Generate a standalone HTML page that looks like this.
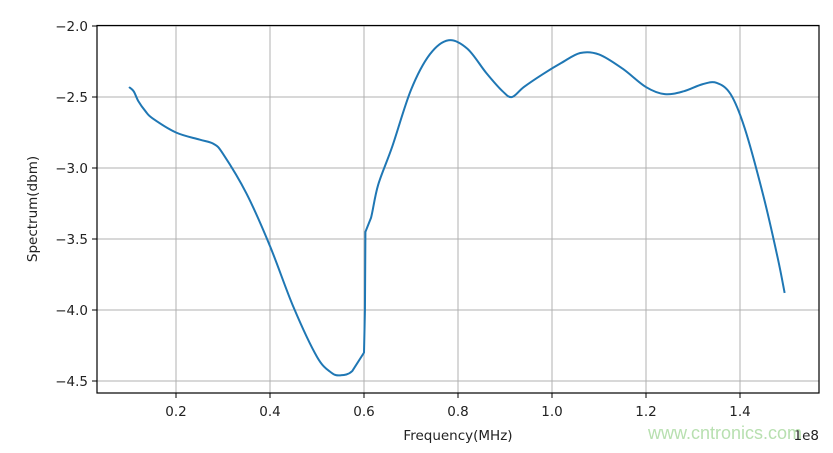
<!DOCTYPE html>
<html><head><style>
body{margin:0;background:#fff;width:833px;height:448px;overflow:hidden;font-family:"Liberation Sans","DejaVu Sans",sans-serif}
</style></head><body>
<svg width="833" height="448" xmlns="http://www.w3.org/2000/svg" font-family="DejaVu Sans, Liberation Sans, sans-serif" font-size="13.5" fill="#222">
<g stroke="#b0b0b0" stroke-width="1">
<line x1="176" y1="25" x2="176" y2="393"/><line x1="270" y1="25" x2="270" y2="393"/><line x1="364" y1="25" x2="364" y2="393"/><line x1="458" y1="25" x2="458" y2="393"/><line x1="552" y1="25" x2="552" y2="393"/><line x1="646" y1="25" x2="646" y2="393"/><line x1="740" y1="25" x2="740" y2="393"/>
<line x1="97" y1="26" x2="819" y2="26"/><line x1="97" y1="97" x2="819" y2="97"/><line x1="97" y1="168" x2="819" y2="168"/><line x1="97" y1="239" x2="819" y2="239"/><line x1="97" y1="310" x2="819" y2="310"/><line x1="97" y1="381" x2="819" y2="381"/>
</g>
<g stroke="#000" stroke-width="1">
<line x1="176" y1="393" x2="176" y2="398"/><line x1="270" y1="393" x2="270" y2="398"/><line x1="364" y1="393" x2="364" y2="398"/><line x1="458" y1="393" x2="458" y2="398"/><line x1="552" y1="393" x2="552" y2="398"/><line x1="646" y1="393" x2="646" y2="398"/><line x1="740" y1="393" x2="740" y2="398"/>
<line x1="92" y1="26" x2="97" y2="26"/><line x1="92" y1="97" x2="97" y2="97"/><line x1="92" y1="168" x2="97" y2="168"/><line x1="92" y1="239" x2="97" y2="239"/><line x1="92" y1="310" x2="97" y2="310"/><line x1="92" y1="381" x2="97" y2="381"/>
</g>
<path id="curve" fill="none" stroke="#1f77b4" stroke-width="2" stroke-linejoin="round"/>
<rect x="97" y="25.5" width="722" height="367.5" fill="none" stroke="#000" stroke-width="1.2"/>
<g text-anchor="middle">
<text x="176" y="416">0.2</text><text x="270" y="416">0.4</text><text x="364" y="416">0.6</text><text x="458" y="416">0.8</text><text x="552" y="416">1.0</text><text x="646" y="416">1.2</text><text x="740" y="416">1.4</text>
<text x="458" y="440">Frequency(MHz)</text>
</g>
<g text-anchor="end">
<text x="88" y="31">−2.0</text><text x="88" y="102">−2.5</text><text x="88" y="173">−3.0</text><text x="88" y="244">−3.5</text><text x="88" y="315">−4.0</text><text x="88" y="386">−4.5</text>
</g>
<text x="819" y="440" text-anchor="end">1e8</text>
<text transform="translate(37,209) rotate(-90)" text-anchor="middle">Spectrum(dbm)</text>
<text x="648" y="439" fill="#b8e0b0" font-size="18" font-family="Liberation Sans, sans-serif">www.cntronics.com</text>
</svg>
<script>
var d=[[0.10,-2.43],[0.11,-2.46],[0.12,-2.53],[0.135,-2.6],[0.15,-2.65],[0.2,-2.75],[0.25,-2.8],[0.28,-2.83],[0.3,-2.9],[0.35,-3.18],[0.4,-3.55],[0.45,-3.98],[0.5,-4.33],[0.53,-4.44],[0.55,-4.46],[0.575,-4.43],[0.6,-4.3],[0.602,-4.0],[0.603,-3.45],[0.615,-3.35],[0.63,-3.12],[0.66,-2.85],[0.7,-2.45],[0.74,-2.2],[0.78,-2.1],[0.82,-2.16],[0.86,-2.33],[0.895,-2.46],[0.915,-2.5],[0.94,-2.43],[0.98,-2.34],[1.02,-2.26],[1.06,-2.19],[1.1,-2.2],[1.15,-2.3],[1.2,-2.43],[1.24,-2.48],[1.28,-2.46],[1.32,-2.41],[1.35,-2.4],[1.38,-2.48],[1.41,-2.72],[1.45,-3.2],[1.48,-3.63],[1.495,-3.88]];
var p=d.map(function(a){return [470*a[0]+82,-142*a[1]-258];});
var s="M"+p[0][0]+","+p[0][1];
for(var i=0;i<p.length-1;i++){
var p0=p[i-1]||p[i],p1=p[i],p2=p[i+1],p3=p[i+2]||p2;
var k=6;
if(i>=15&&i<=18){s+=" L"+p2[0]+","+p2[1];continue;}
s+=" C"+(p1[0]+(p2[0]-p0[0])/k)+","+(p1[1]+(p2[1]-p0[1])/k)+" "+(p2[0]-(p3[0]-p1[0])/k)+","+(p2[1]-(p3[1]-p1[1])/k)+" "+p2[0]+","+p2[1];
}
document.getElementById("curve").setAttribute("d",s);
</script>
</body></html>
